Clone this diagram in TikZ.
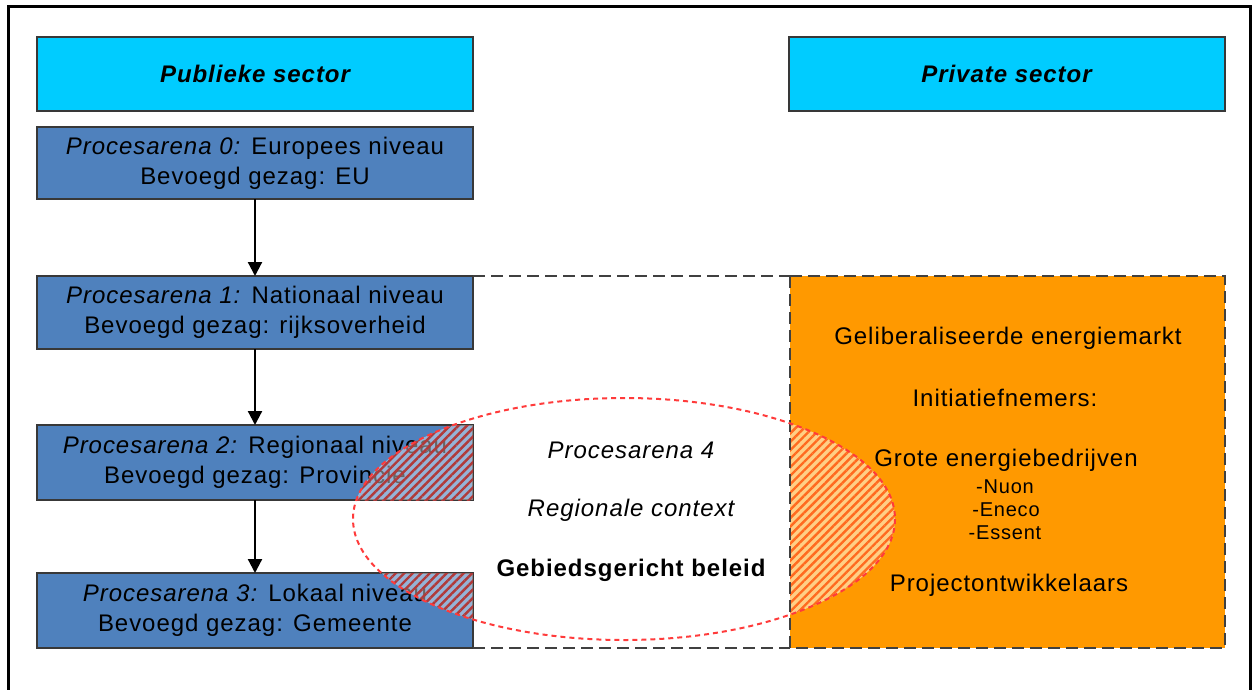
\documentclass[tikz,border=0pt]{standalone}
\usepackage{fontspec}
\setmainfont{Liberation Sans}[LetterSpace=4]
\usetikzlibrary{arrows.meta,patterns.meta}
\definecolor{hdrcyan}{HTML}{00CCFF}
\definecolor{pablue}{HTML}{4F81BD}
\definecolor{mktorange}{HTML}{FF9900}
\definecolor{edgegray}{HTML}{383838}
\definecolor{dashgray}{HTML}{404040}
\definecolor{ellred}{HTML}{FF3B3B}
\definecolor{hatchbluestripe}{HTML}{B03A3A}
\definecolor{hatchorange}{HTML}{FFCF85}
\definecolor{hatchorangestripe}{HTML}{FF6A1F}
\begin{document}
\begin{tikzpicture}[x=1pt,y=-1pt,
  every node/.style={inner sep=0pt, outer sep=0pt},
  txt/.style={font=\fontsize{24}{30}\selectfont},
  smalltxt/.style={font=\fontsize{20}{23}\selectfont},
  hdrbox/.style={draw=edgegray, line width=2pt, fill=hdrcyan, minimum width=436pt, minimum height=74pt, font=\fontsize{24}{30}\selectfont\bfseries\itshape},
  pabox/.style={draw=edgegray, line width=2pt, fill=pablue, minimum width=436pt, minimum height=74pt, align=center, font=\fontsize{24}{30}\selectfont},
  dashline/.style={draw=dashgray, line width=2.5pt, dash pattern=on 12pt off 6pt},
  flow/.style={draw=black, line width=2.2pt, -{Triangle[length=14pt,width=14pt]}},
  ellline/.style={draw=ellred, line width=2pt, dash pattern=on 5pt off 4pt},
  hatch/.style={pattern={Lines[angle=45,distance=6pt,line width=2.4pt]}}
]
\useasboundingbox (0,0) rectangle (1253,689);
% outer frame
\draw[line width=3pt] (8,700) -- (8,6) -- (1250,6) -- (1250,700);

% header boxes
\node[hdrbox] (pub) at (255,74) {Publieke sector};
\node[hdrbox] (priv) at (1006.5,74) {Private sector};

% process arena boxes
\node[pabox, minimum height=72pt] (pa0) at (255,163) {\textit{Procesarena 0:} Europees niveau\\Bevoegd gezag: EU};
\node[pabox, minimum height=73pt] (pa1) at (255,312.5) {\textit{Procesarena 1:} Nationaal niveau\\Bevoegd gezag: rijksoverheid};
\node[pabox, minimum height=75pt] (pa2) at (255,462.5) {\textit{Procesarena 2:} Regionaal niveau\\Bevoegd gezag: Provincie};
\node[pabox, minimum height=75pt] (pa3) at (255,610.5) {\textit{Procesarena 3:} Lokaal niveau\\Bevoegd gezag: Gemeente};

% market box
\node[fill=mktorange, minimum width=435pt, minimum height=372pt] (mkt) at (1007.5,462) {};

% hatched overlaps
\begin{scope}
  \clip (624,519) ellipse [x radius=271, y radius=121];
  \fill[white, fill opacity=0.4] (pa2.north west) rectangle (pa2.south east);
  \fill[white, fill opacity=0.4] (pa3.north west) rectangle (pa3.south east);
  \fill[hatch, pattern color=hatchbluestripe, fill opacity=0.75] (pa2.north west) rectangle (pa2.south east);
  \fill[hatch, pattern color=hatchbluestripe, fill opacity=0.75] (pa3.north west) rectangle (pa3.south east);
  \fill[hatchorange] (mkt.north west) rectangle (mkt.south east);
  \fill[hatch, pattern color=hatchorangestripe] (mkt.north west) rectangle (mkt.south east);
\end{scope}

% dashed outlines
\draw[dashline] (mkt.north west) rectangle (mkt.south east);
\draw[dashline] (pa1.north east) -- (mkt.north west);
\draw[dashline] (pa3.south east) -- (mkt.south west);

% ellipse
\draw[ellline] (624,519) ellipse [x radius=271, y radius=121];

% arrows
\draw[flow] (pa0.south) -- (pa1.north);
\draw[flow] (pa1.south) -- (pa2.north);
\draw[flow] (pa2.south) -- (pa3.north);

% ellipse texts
\node[txt, font=\fontsize{24}{30}\selectfont\itshape] (p4) at (631,450) {Procesarena 4};
\node[txt, font=\fontsize{24}{30}\selectfont\itshape] (rc) at (631,510) {Regionale context};
\node[txt, font=\fontsize{24}{30}\selectfont\bfseries] (gb) at (631,570) {Gebiedsgericht beleid};

% market texts
\node[txt] (m1) at (1008,338) {Geliberaliseerde energiemarkt};
\node[txt] (m2) at (1005,398) {Initiatiefnemers:};
\node[txt] (m3) at (1006,460) {Grote energiebedrijven};
\node[smalltxt] (m4) at (1005,487) {-Nuon};
\node[smalltxt] (m5) at (1006,510) {-Eneco};
\node[smalltxt] (m6) at (1005,533) {-Essent};
\node[txt] (m7) at (1009,585) {Projectontwikkelaars};
\end{tikzpicture}
\end{document}
